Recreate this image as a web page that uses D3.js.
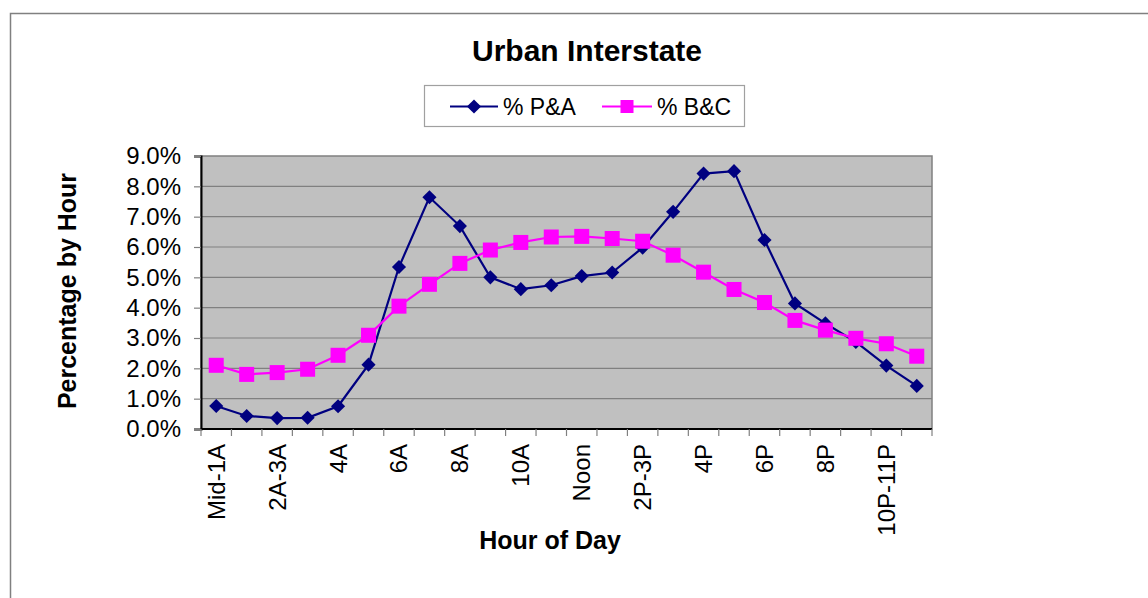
<!DOCTYPE html>
<html>
<head>
<meta charset="utf-8">
<script src="https://cdn.jsdelivr.net/npm/d3@7"></script>
<style>
  html, body { margin: 0; padding: 0; background: #fff; }
  svg { display: block; font-family: "Liberation Sans", Arial, sans-serif; }
</style>
</head>
<body>
<svg id="chart" width="1148" height="598"></svg>
<script>
const categories = ["Mid-1A","1A-2A","2A-3A","3A-4A","4A","5A","6A","7A","8A","9A","10A","11A",
  "Noon","1P-2P","2P-3P","3P-4P","4P","5P","6P","7P","8P","9P","10P-11P","11P-Mid"];
const shownLabels = ["Mid-1A","2A-3A","4A","6A","8A","10A","Noon","2P-3P","4P","6P","8P","10P-11P"];
const pctPA = [0.76,0.43,0.36,0.37,0.75,2.12,5.34,7.64,6.69,5.00,4.61,4.74,
  5.04,5.16,5.98,7.16,8.42,8.50,6.23,4.14,3.48,2.87,2.09,1.42];
const pctBC = [2.10,1.80,1.86,1.97,2.43,3.09,4.05,4.77,5.46,5.90,6.15,6.33,
  6.35,6.28,6.19,5.73,5.17,4.60,4.17,3.58,3.26,2.99,2.81,2.40];
const yTicks = [0,1,2,3,4,5,6,7,8,9];
const seriesNames = ["% P&A", "% B&C"];
const colors = ["#000080", "#ff00ff"];

const svg = d3.select("#chart");
const W = 1148, H = 598;
const plot = {left: 201, top: 156, right: 932, bottom: 429};

// outer chart border
svg.append("rect").attr("x", 10.5).attr("y", 13.5).attr("width", W + 20).attr("height", H + 20)
  .attr("fill", "#fff").attr("stroke", "#808080").attr("stroke-width", 1.5);

// title
svg.append("text").attr("x", 587).attr("y", 61).attr("text-anchor", "middle")
  .attr("font-size", 30).attr("font-weight", "bold").text("Urban Interstate");

const x = d3.scaleBand().domain(categories).range([plot.left, plot.right]).padding(0);
const y = d3.scaleLinear().domain([0, 9]).range([plot.bottom, plot.top]);

// plot background
svg.append("rect").attr("x", plot.left).attr("y", plot.top)
  .attr("width", plot.right - plot.left).attr("height", plot.bottom - plot.top)
  .attr("fill", "#c0c0c0").attr("stroke", "#808080").attr("stroke-width", 1.5);

// gridlines
svg.append("g").selectAll("line").data(yTicks.filter(d => d > 0 && d < 9)).join("line")
  .attr("x1", plot.left).attr("x2", plot.right)
  .attr("y1", d => y(d)).attr("y2", d => y(d))
  .attr("stroke", "#808080").attr("stroke-width", 1.2);

// y axis
const yAxis = d3.axisLeft(y).tickValues(yTicks).tickSize(7).tickPadding(13)
  .tickFormat(d => d.toFixed(1) + "%");
const gy = svg.append("g").attr("transform", `translate(${plot.left},0)`).call(yAxis);
gy.select(".domain").attr("stroke", "#000").attr("stroke-width", 2);
gy.selectAll(".tick line").attr("stroke", "#808080").attr("stroke-width", 1.2);
gy.selectAll(".tick text").attr("font-size", 24).attr("fill", "#000")
  .attr("font-family", "'Liberation Sans', Arial, sans-serif");

// x axis: ticks at category boundaries
const gx = svg.append("g").attr("transform", `translate(0,${plot.bottom})`);
gx.append("line").attr("x1", plot.left).attr("x2", plot.right).attr("y1", 0).attr("y2", 0)
  .attr("stroke", "#000").attr("stroke-width", 2);
const boundaries = categories.map(c => x(c)).concat([x(categories[categories.length - 1]) + x.bandwidth()]);
gx.selectAll("line.tk").data(boundaries).join("line").attr("class", "tk")
  .attr("x1", d => d).attr("x2", d => d).attr("y1", 0).attr("y2", 7)
  .attr("stroke", "#808080").attr("stroke-width", 1.2);
gx.selectAll("text").data(categories.filter(c => shownLabels.includes(c))).join("text")
  .attr("transform", c => `translate(${x(c) + x.bandwidth() / 2 + 8.5},15) rotate(-90)`)
  .attr("text-anchor", "end").attr("font-size", 24).text(c => c);

// axis titles
svg.append("text").attr("x", 550).attr("y", 549).attr("text-anchor", "middle")
  .attr("font-size", 25).attr("font-weight", "bold").text("Hour of Day");
svg.append("text").attr("transform", "translate(76,291) rotate(-90)").attr("text-anchor", "middle")
  .attr("font-size", 25).attr("font-weight", "bold").text("Percentage by Hour");

// lines
const line = d3.line().x((d, i) => x(categories[i]) + x.bandwidth() / 2).y(d => y(d));
const series = [pctPA, pctBC];
series.forEach((s, k) => {
  svg.append("path").datum(s).attr("d", line).attr("fill", "none")
    .attr("stroke", colors[k]).attr("stroke-width", 2.2);
});
// P&A diamonds
svg.append("g").selectAll("path").data(pctPA).join("path")
  .attr("d", d3.symbol().type(d3.symbolSquare).size(100))
  .attr("transform", (d, i) => `translate(${x(categories[i]) + x.bandwidth() / 2},${y(d)}) rotate(45)`)
  .attr("fill", colors[0]);
// B&C squares
svg.append("g").selectAll("rect").data(pctBC).join("rect")
  .attr("x", (d, i) => x(categories[i]) + x.bandwidth() / 2 - 7.5)
  .attr("y", d => y(d) - 7.5).attr("width", 15).attr("height", 15)
  .attr("fill", colors[1]);

// legend
const lg = svg.append("g");
lg.append("rect").attr("x", 424.5).attr("y", 85.5).attr("width", 320).attr("height", 41)
  .attr("fill", "#fff").attr("stroke", "#a0a0a0").attr("stroke-width", 1.2);
const legendItems = [{x0: 450, x1: 498, tx: 503}, {x0: 602, x1: 652, tx: 657}];
legendItems.forEach((it, k) => {
  const cy = 106.5, cx = (it.x0 + it.x1) / 2;
  lg.append("line").attr("x1", it.x0).attr("x2", it.x1).attr("y1", cy).attr("y2", cy)
    .attr("stroke", colors[k]).attr("stroke-width", 2.2);
  if (k === 0) {
    lg.append("path").attr("d", d3.symbol().type(d3.symbolSquare).size(100))
      .attr("transform", `translate(${cx},${cy}) rotate(45)`).attr("fill", colors[0]);
  } else {
    lg.append("rect").attr("x", cx - 6.5).attr("y", cy - 6.5).attr("width", 13).attr("height", 13)
      .attr("fill", colors[1]);
  }
  lg.append("text").attr("x", it.tx).attr("y", cy + 8).attr("font-size", 23).text(seriesNames[k]);
});
</script>
</body>
</html>
